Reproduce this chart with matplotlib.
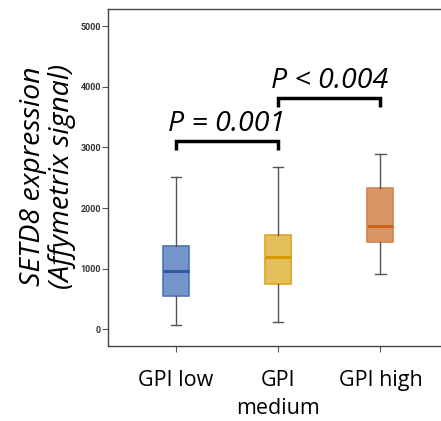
import matplotlib
matplotlib.use("Agg")
import matplotlib.pyplot as plt

# values
groups = ["GPI low", "GPI\nmedium", "GPI high"]
whislo = [66, 116, 910]
q1 = [546, 739, 1433]
med = [954, 1185, 1709]
q3 = [1378, 1549, 2337]
whishi = [2508, 2674, 2894]

fills = ["#7595CA", "#E5BF5C", "#D99666"]
edges = ["#4C74BA", "#DCA520", "#D48352"]
medcols = ["#2F57A3", "#D49A00", "#C8621C"]

yticks = [0, 1000, 2000, 3000, 4000, 5000]

# significance brackets: (left group, right group, y, text)
brackets = [(1, 2, 3100, "P = 0.001"), (2, 3, 3810, "P < 0.004")]

fig = plt.figure(figsize=(4.41, 4.21), dpi=100)
ax = fig.add_axes([0.245, 0.178, 0.757, 0.801])

stats = []
for i in range(3):
    stats.append(dict(whislo=whislo[i], q1=q1[i], med=med[i], q3=q3[i],
                      whishi=whishi[i], fliers=[]))

pos = [1, 2, 3]
bp = ax.bxp(stats, positions=pos, widths=0.255, patch_artist=True,
            showfliers=False, capwidths=0.1,
            whiskerprops=dict(color="#555555", lw=1.0),
            capprops=dict(color="#555555", lw=1.0))
for i, b in enumerate(bp["boxes"]):
    b.set_facecolor(fills[i])
    b.set_edgecolor(edges[i])
    b.set_linewidth(1.2)
for i, m in enumerate(bp["medians"]):
    m.set_color(medcols[i])
    m.set_linewidth(2.2)

h = 140
for a, b, y, txt in brackets:
    ax.plot([a, a, b, b], [y - h, y, y, y - h], color="black", lw=2.5,
            solid_capstyle="butt", solid_joinstyle="miter")
    ax.text((a + b) / 2, y + 60, txt, ha="center", va="bottom",
            fontsize=20.5, style="italic", family="Open Sans")

ax.set_xlim(0.34, 3.6)
ax.set_ylim(-280, 5290)
ax.set_yticks(yticks)
ax.set_yticklabels([str(t) for t in yticks], fontsize=6.5, fontweight="bold",
                   color="#333333", family="Roboto")
ax.set_xticks(pos)
ax.set_xticklabels(groups, fontsize=15.5, family="Open Sans", linespacing=1.45)
ax.tick_params(axis="y", length=4, width=0.8, color="#555555", pad=1)
ax.tick_params(axis="x", length=4, width=0.8, color="#555555", pad=13)
for s in ax.spines.values():
    s.set_color("#444444")
    s.set_linewidth(1.0)

fig.text(0.108, 0.582, "SETD8 expression\n(Affymetrix signal)", rotation=90,
         ha="center", va="center", fontsize=20.5, style="italic",
         family="Open Sans", linespacing=1.05)

fig.savefig("out.png", dpi=100)
